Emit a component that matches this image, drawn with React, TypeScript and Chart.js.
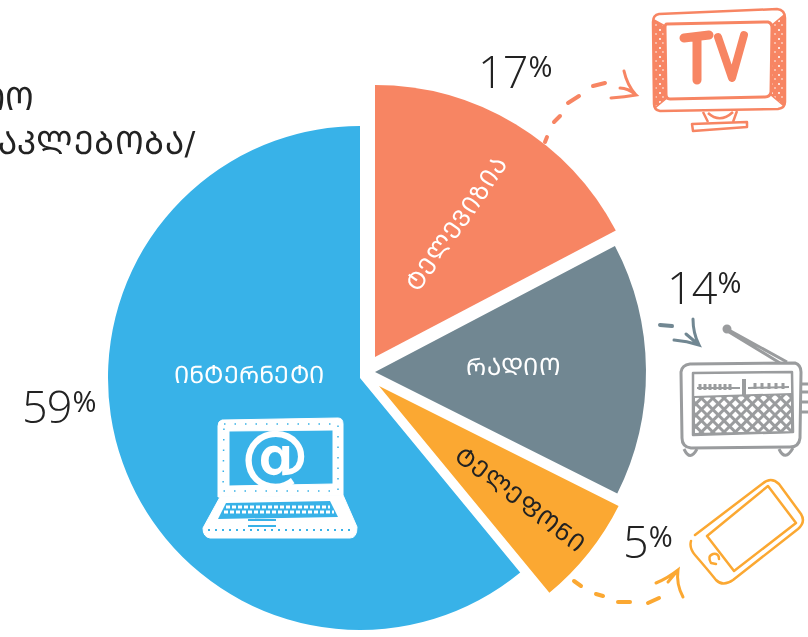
import React, { useEffect, useRef } from "react";
import { Chart, registerables } from "chart.js";

Chart.register(...registerables);

const categories = ["ᲢᲔᲚᲔᲕᲘᲖᲘᲐ", "ᲠᲐᲓᲘᲝ", "ᲢᲔᲚᲔᲤᲝᲜᲘ", "ᲘᲜᲢᲔᲠᲜᲔᲢᲘ"];
const printedPercent = [17, 14, 5, 59];
const drawnShare = [17.2, 15, 6.6, 60.6];
const colors = ["#f78563", "#718792", "#fba832", "#38b2e8"];

const W = 808;
const H = 637;
const apex = [
  [375, 357, 272],
  [375, 372, 271],
  [379, 386, 268],
  [360, 378, 252],
];

const slicePlacement: any = {
  id: "slicePlacement",
  afterDatasetsUpdate(chart: any) {
    chart.getDatasetMeta(0).data.forEach((el: any, i: number) => {
      el.x = apex[i][0];
      el.y = apex[i][1];
      el.outerRadius = apex[i][2];
      el.innerRadius = 0;
    });
  },
};

const serif = "'DejaVu Sans', sans-serif";
const thin = "'Open Sans', 'Noto Sans', sans-serif";

function Percent({ v, x, y }: { v: number; x: number; y: number }) {
  return (
    <div style={{ position: "absolute", left: x, top: y, fontFamily: thin, fontWeight: 300, color: "#222", whiteSpace: "nowrap", lineHeight: "50px", height: 50 }}>
      <span style={{ fontSize: 45, letterSpacing: -1 }}>{v}</span>
      <span style={{ fontSize: 29, position: "relative", top: -11, marginLeft: 1, fontWeight: 400 }}>%</span>
    </div>
  );
}

function SliceLabel({ text, cx, cy, rot, color, size, ls }: any) {
  return (
    <div style={{ position: "absolute", left: cx, top: cy, transform: `translate(-50%,-50%) rotate(${rot}deg)`, fontFamily: serif, fontSize: size, letterSpacing: ls, color, whiteSpace: "nowrap", lineHeight: 1 }}>
      {text}
    </div>
  );
}

const dash = { fill: "none", strokeLinecap: "round", strokeWidth: 4 } as any;

function Art() {
  return (
    <svg width={W} height={H} style={{ position: "absolute", left: 0, top: 0 }}>
      <defs>
        <pattern id="dots" width="7" height="9" patternUnits="userSpaceOnUse">
          <rect width="7" height="9" fill="#f78563" />
          <circle cx="2" cy="3" r="1" fill="#fff" />
          <circle cx="5" cy="7" r="0.8" fill="#fff" />
        </pattern>
        <pattern id="hatch" width="8" height="8" patternUnits="userSpaceOnUse" patternTransform="rotate(45)">
          <rect width="8" height="8" fill="#fff" />
          <path d="M0 0H8M0 0V8" stroke="#9a9c9e" strokeWidth="6" />
        </pattern>
      </defs>

      {/* TV */}
      <g stroke="#f78563" fill="none" strokeWidth="2.5" strokeLinejoin="round">
        <path d="M659 14 L777 9 Q785 10 785 18 L785 102 Q785 108 778 109 L660 111 Q654 110 654 104 L653 22 Q653 15 659 14Z" fill="#fff" />
        <path d="M654 20 L665 26 L667 98 L655 108Z" fill="url(#dots)" strokeWidth="1.5" />
        <path d="M784 15 L772 25 L771 95 L784 106Z" fill="url(#dots)" strokeWidth="1.5" />
        <path d="M667 24 L768 22 Q772 23 772 28 L771 92 Q770 97 765 97 L670 99 Q666 99 666 94 L665 28 Q665 24 667 24Z" fill="#fff" strokeWidth="3" />
        <path d="M703 112 L708 122 M737 111 L733 122 M708 113 Q720 124 733 112" />
        <path d="M692 124 L747 122 L747 127 L693 131Z" fill="#fff" />
        <path d="M684 38 L709 35 M697 37 L697 80" strokeWidth="9" strokeLinecap="round" />
        <path d="M718 37 L732 78 L744 35" strokeWidth="8" strokeLinecap="round" />
      </g>
      <g stroke="#f78563" {...dash}>
        <path d="M545 142 L547 137" />
        <path d="M554 122 L560 116" />
        <path d="M568 103 L579 96" />
        <path d="M593 86 L605 83" />
        <path d="M611 98 Q625 97 636 95 Q628 88 620 88 M636 95 Q627 85 624 71" strokeWidth="3" />
      </g>

      {/* Radio */}
      <g stroke="#9a9c9e" fill="none" strokeWidth="3" strokeLinejoin="round">
        <path d="M727 329 L787 362 M729 332 L780 363" />
        <circle cx="727" cy="329" r="3" fill="#9a9c9e" />
        <path d="M690 364 L795 363 Q801 365 801 372 L800 438 Q799 447 790 447 L691 448 Q682 447 682 438 L681 372 Q682 365 690 364Z" fill="#fff" />
        <path d="M684 449 Q690 462 697 449 M779 449 Q785 462 793 448" />
        <path d="M801 384 H808 M801 392 H808 M801 402 H808 M801 412 H808" />
        <path d="M693 373 L792 372 L793 432 L693 435Z" fill="#fff" strokeWidth="2.5" />
        <path d="M694 397 L792 394 L792 432 L694 434Z" fill="url(#hatch)" stroke="#9a9c9e" strokeWidth="2" />
        <path d="M697 388 L740 388 M748 388 L789 387" strokeWidth="2" />
        <path d="M700 384V390M705 384V390M710 384V390M715 384V390M720 384V390M725 384V390M730 384V390M755 383V389M762 383V389M769 383V389M776 383V389M783 383V389" strokeWidth="3" />
        <path d="M744 379 V396" strokeWidth="4" />
      </g>
      <g stroke="#718792" {...dash}>
        <path d="M660 325 L672 326" />
        <path d="M674 340 Q687 341 699 345 Q693 333 693 319 M699 345 L686 334" strokeWidth="3" />
      </g>

      {/* Phone */}
      <g stroke="#fba832" fill="none" strokeWidth="2.5" strokeLinejoin="round" strokeLinecap="round">
        <path d="M695 535 L762 484 Q771 476 779 484 L801 514 Q806 522 798 529 L733 580 Q723 587 716 580 Q708 570 695 555 Q689 548 691 541" />
        <path d="M768 486 L796 523 L734 571 L707 536Z" />
        <path d="M711 563 Q707 556 713 554 Q719 553 719 559 M711 563 L716 564" />
      </g>
      <g stroke="#fba832" {...dash}>
        <path d="M574 581 L581 586" />
        <path d="M596 594 L603 596" />
        <path d="M618 602 L630 602" />
        <path d="M648 603 L659 598" />
        <path d="M656 583 Q668 578 678 570 Q676 584 683 597 M678 570 L668 582" strokeWidth="3" />
      </g>

      {/* Laptop */}
      <g fill="#fff" stroke="#fff" strokeLinejoin="round">
        <path d="M222 420 L338 418 Q343 418 343 424 L343 495 L218 497 L218 426 Q218 421 222 420Z" strokeWidth="1" />
        <path d="M229 431 L333 430 L333 484 L229 486Z" fill="#38b2e8" strokeWidth="1" />
        <path d="M224 424 H338 V491 H223Z" fill="none" stroke="#38b2e8" strokeWidth="1.5" strokeDasharray="1.5 9" />
        <path d="M220 497 L343 495 L357 527 Q357 538 350 538 L210 538 Q203 537 203 528Z" strokeWidth="1" />
        <path d="M226 503 L330 501 L338 517 L218 519Z" fill="#38b2e8" stroke="none" />
        <path d="M226 507 H330 M224 512 H334" stroke="#fff" strokeWidth="3" strokeDasharray="4 2" fill="none" />
        <path d="M248 520 H276 M248 526 H276" stroke="#38b2e8" strokeWidth="2" fill="none" />
        <path d="M208 530 H352" stroke="#38b2e8" strokeWidth="2" strokeDasharray="2 5" fill="none" />
      </g>
    </svg>
  );
}

export default function App() {
  const ref = useRef<HTMLCanvasElement>(null);
  useEffect(() => {
    document.body.style.margin = "0";
    const chart = new Chart(ref.current!, {
      type: "pie",
      data: {
        labels: categories,
        datasets: [{ data: drawnShare, backgroundColor: colors, borderWidth: 0 }],
      },
      options: {
        responsive: false,
        animation: false,
        plugins: { legend: { display: false }, tooltip: { enabled: false } },
      },
      plugins: [slicePlacement],
    });
    return () => chart.destroy();
  }, []);

  return (
    <div style={{ position: "fixed", left: 0, top: 0, width: W, height: H, overflow: "hidden", background: "#fff" }}>
      <canvas ref={ref} width={W} height={H} style={{ position: "absolute", left: 0, top: 0 }} />
      <Art />
      <div style={{ position: "absolute", right: W - 34, top: 80, fontFamily: serif, fontSize: 32, lineHeight: "38px", color: "#222", whiteSpace: "nowrap" }}>ᲘᲝ</div>
      <div style={{ position: "absolute", right: W - 196, top: 124, fontFamily: serif, fontSize: 32, letterSpacing: 0.6, lineHeight: "38px", color: "#222", whiteSpace: "nowrap" }}>ᲜᲐᲙᲚᲔᲑᲝᲑᲐ/</div>

      <SliceLabel text={categories[0]} cx={457} cy={224} rot={-55} color="#fff" size={24} ls={0.8} />
      <SliceLabel text={categories[1]} cx={514} cy={367} rot={0} color="#fff" size={24} ls={0.8} />
      <SliceLabel text={categories[2]} cx={520} cy={500} rot={37} color="#222" size={24} ls={0.8} />
      <SliceLabel text={categories[3]} cx={249} cy={375} rot={0} color="#fff" size={24} ls={0.3} />

      <div style={{ position: "absolute", left: 275, top: 455, transform: "translate(-50%,-50%)", fontFamily: "'DejaVu Sans'", fontWeight: 700, fontSize: 68, color: "#fff", lineHeight: 1 }}>@</div>

      <Percent v={printedPercent[0]} x={478} y={46} />
      <Percent v={printedPercent[1]} x={667} y={262} />
      <Percent v={printedPercent[2]} x={623} y={516} />
      <Percent v={printedPercent[3]} x={22} y={381} />
    </div>
  );
}
